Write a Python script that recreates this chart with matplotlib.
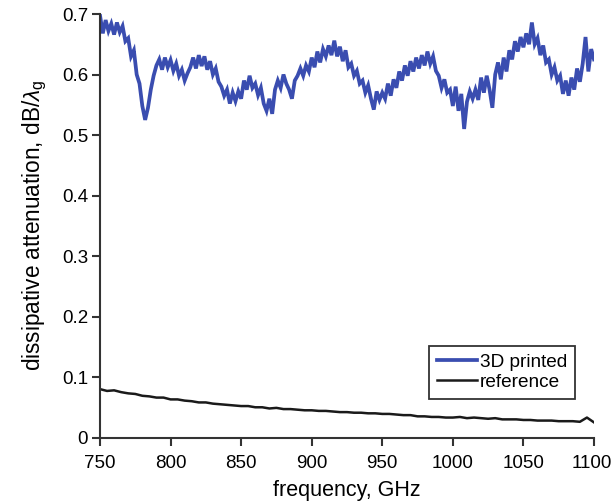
import numpy as np
import matplotlib
matplotlib.use("Agg")
import matplotlib.pyplot as plt
import matplotlib.transforms as mtransforms

plt.rcParams["font.family"] = ["Liberation Sans", "DejaVu Sans"]
plt.rcParams["mathtext.fontset"] = "custom"
plt.rcParams["mathtext.rm"] = "Liberation Sans"
plt.rcParams["mathtext.it"] = "Liberation Sans:italic"

# 3D printed waveguide, sampled every 2 GHz
freq_printed = np.arange(750, 1101, 2)
atten_printed = [
    0.698, 0.668, 0.690, 0.672, 0.684, 0.666, 0.686, 0.670, 0.680, 0.655,
    0.660, 0.630, 0.640, 0.600, 0.585, 0.548, 0.525, 0.545, 0.575, 0.598,
    0.615, 0.625, 0.608, 0.628, 0.612, 0.624, 0.606, 0.618, 0.598, 0.608,
    0.590, 0.602, 0.612, 0.628, 0.610, 0.632, 0.614, 0.630, 0.608, 0.622,
    0.600, 0.610, 0.588, 0.580, 0.565, 0.575, 0.552, 0.570, 0.556, 0.572,
    0.560, 0.590, 0.575, 0.598, 0.578, 0.585, 0.566, 0.578, 0.552, 0.540,
    0.560, 0.535, 0.575, 0.590, 0.578, 0.600, 0.585, 0.575, 0.560, 0.590,
    0.598, 0.610, 0.598, 0.615, 0.605, 0.628, 0.612, 0.638, 0.620, 0.642,
    0.630, 0.648, 0.632, 0.656, 0.630, 0.646, 0.622, 0.640, 0.612, 0.618,
    0.598, 0.606, 0.585, 0.590, 0.570, 0.582, 0.560, 0.542, 0.572, 0.558,
    0.570, 0.560, 0.585, 0.565, 0.592, 0.578, 0.605, 0.590, 0.615, 0.598,
    0.622, 0.605, 0.628, 0.610, 0.632, 0.615, 0.638, 0.618, 0.630, 0.606,
    0.598, 0.578, 0.592, 0.570, 0.575, 0.548, 0.580, 0.540, 0.568, 0.510,
    0.555, 0.572, 0.560, 0.575, 0.558, 0.595, 0.570, 0.598, 0.575, 0.545,
    0.600, 0.620, 0.592, 0.628, 0.605, 0.640, 0.625, 0.655, 0.638, 0.662,
    0.645, 0.668, 0.650, 0.686, 0.650, 0.660, 0.632, 0.648, 0.620, 0.625,
    0.600, 0.612, 0.590, 0.598, 0.568, 0.590, 0.565, 0.595, 0.575, 0.610,
    0.588, 0.618, 0.662, 0.605, 0.642, 0.625,
]

# reference waveguide, sampled every 5 GHz
freq_reference = np.arange(750, 1101, 5)
atten_reference = [
    0.080, 0.077, 0.078, 0.075, 0.073, 0.072, 0.069, 0.068, 0.066, 0.066,
    0.063, 0.063, 0.061, 0.060, 0.058, 0.058, 0.056, 0.055, 0.054, 0.053,
    0.052, 0.052, 0.050, 0.050, 0.048, 0.049, 0.047, 0.047, 0.046, 0.045,
    0.045, 0.044, 0.044, 0.043, 0.042, 0.042, 0.041, 0.041, 0.040, 0.040,
    0.039, 0.039, 0.038, 0.037, 0.037, 0.035, 0.035, 0.034, 0.034, 0.033,
    0.033, 0.034, 0.032, 0.033, 0.032, 0.031, 0.032, 0.030, 0.030, 0.030,
    0.029, 0.029, 0.028, 0.028, 0.028, 0.027, 0.027, 0.027, 0.026, 0.033,
    0.025,
]

x_ticks = [750, 800, 850, 900, 950, 1000, 1050, 1100]
y_ticks = [0, 0.1, 0.2, 0.3, 0.4, 0.5, 0.6, 0.7]
y_tick_labels = ["0", "0.1", "0.2", "0.3", "0.4", "0.5", "0.6", "0.7"]

fig = plt.figure(figsize=(6.13, 5.04), dpi=100)
ax = fig.add_axes([0.1631, 0.1319, 0.8059, 0.8403])

ax.plot(freq_printed, atten_printed, color="#3a4db0", lw=2.7,
        label="3D printed", solid_joinstyle="miter")
ax.plot(freq_reference, atten_reference, color="#1a1a1a", lw=1.8,
        label="reference")

ax.set_xlim(750, 1100)
ax.set_ylim(0, 0.7)
ax.set_xticks(x_ticks)
ax.set_xticklabels([str(t) for t in x_ticks])
ax.set_yticks(y_ticks)
ax.set_yticklabels(y_tick_labels)

for side in ("top", "right"):
    ax.spines[side].set_visible(False)
for side in ("left", "bottom"):
    ax.spines[side].set_linewidth(1.5)
    ax.spines[side].set_color("#333333")

ax.tick_params(direction="out", length=5.5, width=1.5, color="#333333",
               labelsize=13.5)
ax.tick_params(axis="x", pad=7)
ax.tick_params(axis="y", pad=3)

# keep the last frequency label inside the canvas
last = ax.get_xticklabels()[-1]
last.set_transform(last.get_transform() +
                   mtransforms.ScaledTranslation(-2 / 100, 0, fig.dpi_scale_trans))

ax.set_xlabel("frequency, GHz", fontsize=15.5, labelpad=6)
ax.set_ylabel(r"dissipative attenuation, dB/$\lambda_\mathrm{g}$",
              fontsize=16.3, labelpad=9)

leg = ax.legend(loc="lower right", bbox_to_anchor=(0.962, 0.092),
                fontsize=13.7, frameon=True, fancybox=False,
                edgecolor="#333333", framealpha=1, borderpad=0.42,
                handlelength=2.1, handletextpad=0.15, labelspacing=0.12,
                borderaxespad=0)
leg.get_frame().set_linewidth(1.3)

fig.savefig("out.png", dpi=100)
